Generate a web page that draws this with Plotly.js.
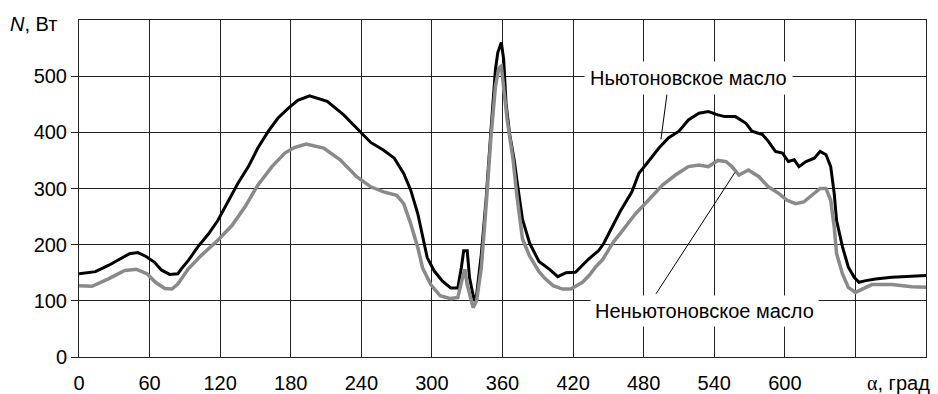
<!DOCTYPE html>
<html>
<head>
<meta charset="utf-8">
<script src="https://cdn.plot.ly/plotly-3.0.1.min.js"></script>
<style>html,body{margin:0;padding:0;background:#fff;}</style>
</head>
<body>
<div id="chart" style="width:938px;height:394px;"></div>
<script>
// Newtonian oil (black)
const newtX = [0,14,25,36,43,50,57,64,70,77,84,87,93,101,110,118,127,135,144,152,161,169,178,186,196,211,225,239,248,259,268,276,282,288,293,296,302,309,316,322,325,327,330,332,336,338,342,346,350,354,356,359,361,363,366,370,373,377,383,391,400,407,414,422,433,442,446,453,460,470,476,484,493,501,510,518,527,535,543,549,558,567,572,581,586,592,598,603,608,612,618,625,630,635,639,642,644,649,654,659,663,669,677,691,708,720];
const newtY = [148,152,163,175,184,186,179,169,155,147,148,157,172,196,219,243,279,309,339,372,402,425,443,457,465,455,431,401,382,368,354,327,297,255,207,177,153,135,123,123,159,189,189,141,100,111,183,279,398,512,542,560,530,452,398,350,303,245,203,170,156,143,150,151,174,190,202,231,259,294,327,348,372,390,402,422,434,437,431,428,428,416,402,396,384,366,363,348,351,339,348,354,366,360,339,291,243,196,160,142,133,136,139,142,143,145];
// Non-Newtonian oil (gray)
const nonNewtX = [0,11,25,39,49,58,65,73,79,84,93,104,118,130,141,152,164,175,183,193,208,222,236,248,259,270,276,282,288,292,299,307,316,322,326,328,330,333,335,338,342,346,350,354,357,359,361,364,369,372,377,383,391,396,403,411,418,423,428,434,439,445,450,454,462,473,484,496,507,518,527,535,543,550,555,561,569,578,586,595,602,609,616,623,630,635,639,642,644,649,654,660,666,674,691,708,720];
const nonNewtY = [127,126,139,154,156,148,133,122,121,130,157,181,208,234,267,306,339,363,373,379,372,351,321,303,294,288,273,237,195,159,129,109,104,106,141,156,129,100,88,100,159,267,386,482,515,518,482,422,351,291,210,180,152,140,127,121,121,127,133,146,160,173,192,204,225,255,279,306,324,339,342,339,350,348,339,324,333,321,303,291,279,273,276,288,300,300,279,231,184,148,124,115,121,129,129,125,124];

const xTickVals = [0,60,120,180,240,300,360,420,480,540,600,660];
const xTickText = ['0','60','120','180','240','300','360','420','480','540','600',''];
const yTickVals = [0,100,200,300,400,500];
const yTickText = ['0','100','200','300','400','500'];

const labelNewt = 'Ньютоновское масло';
const labelNonNewt = 'Неньютоновское масло';
const yTitle = '<i>N</i>, Вт';
const xTitle = '<span style="font-family:\'Liberation Serif\',serif">α</span>, град';

const FONT = 'Liberation Sans, Arial, sans-serif';
const FS = 20;
const GRID = '#222';

const traces = [
  {x: newtX, y: newtY, mode: 'lines', name: labelNewt,
   line: {color: '#000', width: 3}},
  {x: nonNewtX, y: nonNewtY, mode: 'lines', name: labelNonNewt,
   line: {color: '#8a8a8a', width: 3.5}}
];

const layout = {
  width: 938, height: 394,
  margin: {l: 79, r: 12, t: 20, b: 37},
  paper_bgcolor: '#fff', plot_bgcolor: '#fff',
  showlegend: false,
  font: {family: FONT, size: FS, color: '#000'},
  xaxis: {
    range: [0, 720], tickvals: xTickVals, ticktext: xTickText,
    showgrid: true, gridcolor: GRID, gridwidth: 1,
    showline: true, linecolor: GRID, linewidth: 1, mirror: true,
    ticks: '', zeroline: false, ticklabelstandoff: 8,
    tickfont: {family: FONT, size: FS, color: '#000'}
  },
  yaxis: {
    range: [0, 600], tickvals: yTickVals, ticktext: yTickText,
    ticksuffix: '\u2002',
    showgrid: true, gridcolor: GRID, gridwidth: 1,
    showline: true, linecolor: GRID, linewidth: 1, mirror: true,
    ticks: 'outside', ticklen: 7, tickcolor: GRID, tickwidth: 1,
    zeroline: false,
    tickfont: {family: FONT, size: FS, color: '#000'}
  },
  shapes: [
    {type: 'line', xref: 'x', yref: 'y', x0: 499.8, y0: 468, x1: 494.7, y1: 387.5,
     line: {color: '#000', width: 1}},
    {type: 'line', xref: 'x', yref: 'y', x0: 490.5, y0: 112.5, x1: 557.6, y1: 328.6,
     line: {color: '#000', width: 1}}
  ],
  annotations: [
    {text: labelNewt, xref: 'x', yref: 'y', x: 517.7, y: 496, showarrow: false,
     bgcolor: '#fff', borderpad: 5, font: {family: FONT, size: FS, color: '#000'}},
    {text: labelNonNewt, xref: 'x', yref: 'y', x: 532, y: 82, showarrow: false,
     bgcolor: '#fff', borderpad: 4, font: {family: FONT, size: FS, color: '#000'}},
    {text: yTitle, xref: 'paper', yref: 'paper', x: 0, y: 1, xanchor: 'right', yanchor: 'middle',
     xshift: -20, yshift: -4, showarrow: false, font: {family: FONT, size: FS, color: '#000'}},
    {text: xTitle, xref: 'paper', yref: 'paper', x: 1, y: 0, xanchor: 'right', yanchor: 'middle',
     xshift: 6, yshift: -26, showarrow: false, font: {family: FONT, size: FS, color: '#000'}}
  ]
};

Plotly.newPlot('chart', traces, layout, {displayModeBar: false, staticPlot: true});
</script>
</body>
</html>
